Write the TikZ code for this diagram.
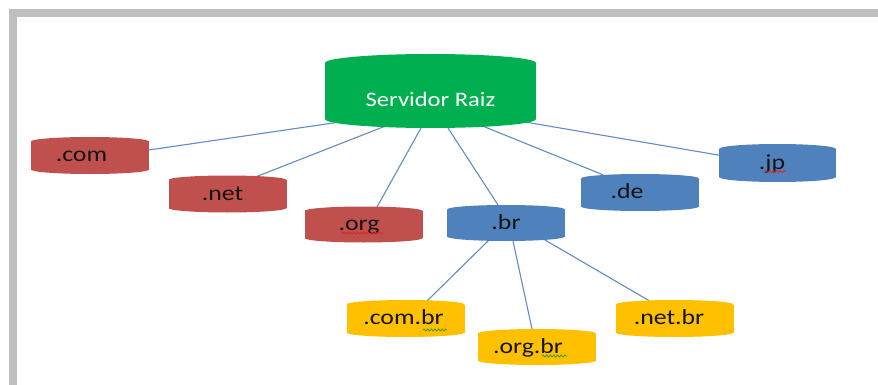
\documentclass[tikz,border=0pt]{standalone}
\usepackage{fontspec}
\setmainfont{Carlito}[FakeStretch=1.2]
\usetikzlibrary{calc,backgrounds,decorations.pathmorphing}

\definecolor{rootgreen}{HTML}{00B050}
\definecolor{tldred}{HTML}{C0504D}
\definecolor{tldblue}{HTML}{4F81BD}
\definecolor{subyellow}{HTML}{FFC000}
\definecolor{linkblue}{HTML}{5F8DC8}
\definecolor{framegray}{HTML}{BFBFBF}
\definecolor{spellred}{HTML}{E0262A}
\definecolor{spellgreen}{HTML}{4E9A2A}

% shift the printed label sideways inside its box without changing the box width
\newcommand\lblshift[2]{\kern-#1pt\relax#2\kern#1pt\relax}

% can-shaped server: #1 name, #2 centre, #3 width, #4 full height, #5 cap depth,
% #6 fill colour, #7 label style, #8 label
\newcommand\dnsnode[8]{%
  \fill[#6] ($(#2)+({-#3/2},{-#4/2+#5})$) rectangle ($(#2)+({#3/2},{#4/2-#5})$);
  \fill[#6] ($(#2)+(0,{-#4/2+#5})$) ellipse [x radius={#3/2*1pt}, y radius={#5*1pt}];
  \fill[#6] ($(#2)+(0,{#4/2-#5})$) ellipse [x radius={#3/2*1pt}, y radius={#5*1pt}];
  \node[#7, minimum width=#3pt, minimum height=#4pt] (#1) at (#2) {#8};
}

\begin{document}
\begin{tikzpicture}[x=1pt,y=-1pt,
  tldlbl/.style={inner sep=0pt, text=black!92, font=\fontsize{21.5}{24}\selectfont,
    text height=14pt, text depth=2pt},
  rootlbl/.style={inner sep=0pt, text=white, font=\fontsize{20.5}{24}\selectfont,
    text height=33pt, text depth=1.6pt},
  link/.style={draw=linkblue, line width=1.1pt, shorten <=-2pt, shorten >=-2pt},
  wavy/.style={decorate, decoration={snake, amplitude=1pt, segment length=3.6pt},
    line width=0.9pt}]

\useasboundingbox (0,0) rectangle (878,385);

% root server
\dnsnode{root}{430.5,91}{211}{74}{9}{rootgreen}{rootlbl}{Servidor Raiz}

% top-level domains
\dnsnode{com}{90,155.5}{118}{37}{4.5}{tldred}{tldlbl}{\lblshift{8.5}{.com}}
\dnsnode{net}{227.5,194}{118}{37}{4.5}{tldred}{tldlbl}{\lblshift{5}{.net}}
\dnsnode{org}{363.5,224.5}{118}{36}{4.5}{tldred}{tldlbl}{\lblshift{4.5}{.org}}
\dnsnode{br}{506,223}{118}{36}{4.5}{tldblue}{tldlbl}{.br}
\dnsnode{de}{640,192.5}{118}{37}{4.5}{tldblue}{tldlbl}{\lblshift{13}{.de}}
\dnsnode{jp}{777.5,163}{117}{38}{5}{tldblue}{tldlbl}{\lblshift{5.5}{.jp}}

% second-level domains under .br
\dnsnode{combr}{405.5,318.5}{118}{37}{4.5}{subyellow}{tldlbl}{\lblshift{2}{.com.br}}
\dnsnode{orgbr}{537,347}{118}{36}{4.5}{subyellow}{tldlbl}{\lblshift{9}{.org.br}}
\dnsnode{netbr}{674.5,318.5}{118}{37}{4.5}{subyellow}{tldlbl}{\lblshift{5.5}{.net.br}}

% spell-check marks under the labels
\draw[wavy, spellred] ($(org)+(-21.5,8.5)$) -- ($(org)+(19.5,8.5)$);
\draw[wavy, spellred] ($(jp)+(-12.5,8.7)$) -- ($(jp)+(8.5,8.7)$);
\draw[wavy, spellgreen] ($(combr)+(17.5,11.5)$) -- ($(combr)+(41.5,11.5)$);
\draw[wavy, spellgreen] ($(orgbr)+(5,9)$) -- ($(orgbr)+(30,9)$);

% page, frame and links, kept behind the servers
\begin{scope}[on background layer]
  \fill[white] (0,0) rectangle (878,385);
  \fill[framegray] (9,9) rectangle (878,17);
  \fill[framegray] (9,9) rectangle (17,385);
  \draw[link] ($(root)+(-97.5,32)$) -- ($(com)+(59,-5.5)$);
  \draw[link] ($(root)+(-47.5,36)$) -- ($(net)+(30.5,-18)$);
  \draw[link] ($(root)+(-9.5,37)$) -- ($(org)+(13.5,-17.5)$);
  \draw[link] ($(root)+(17.5,37)$) -- ($(br)+(-8,-18)$);
  \draw[link] ($(root)+(54.5,36)$) -- ($(de)+(-39,-18.5)$);
  \draw[link] ($(root)+(94.5,31)$) -- ($(jp)+(-59.5,-8)$);
  \draw[link] ($(br)+(-18,18)$) -- ($(combr)+(22.5,-18.5)$);
  \draw[link] ($(br)+(7,18)$) -- ($(orgbr)+(-5,-18)$);
  \draw[link] ($(br)+(39,17)$) -- ($(netbr)+(-26.5,-18.5)$);
\end{scope}
\end{tikzpicture}
\end{document}
